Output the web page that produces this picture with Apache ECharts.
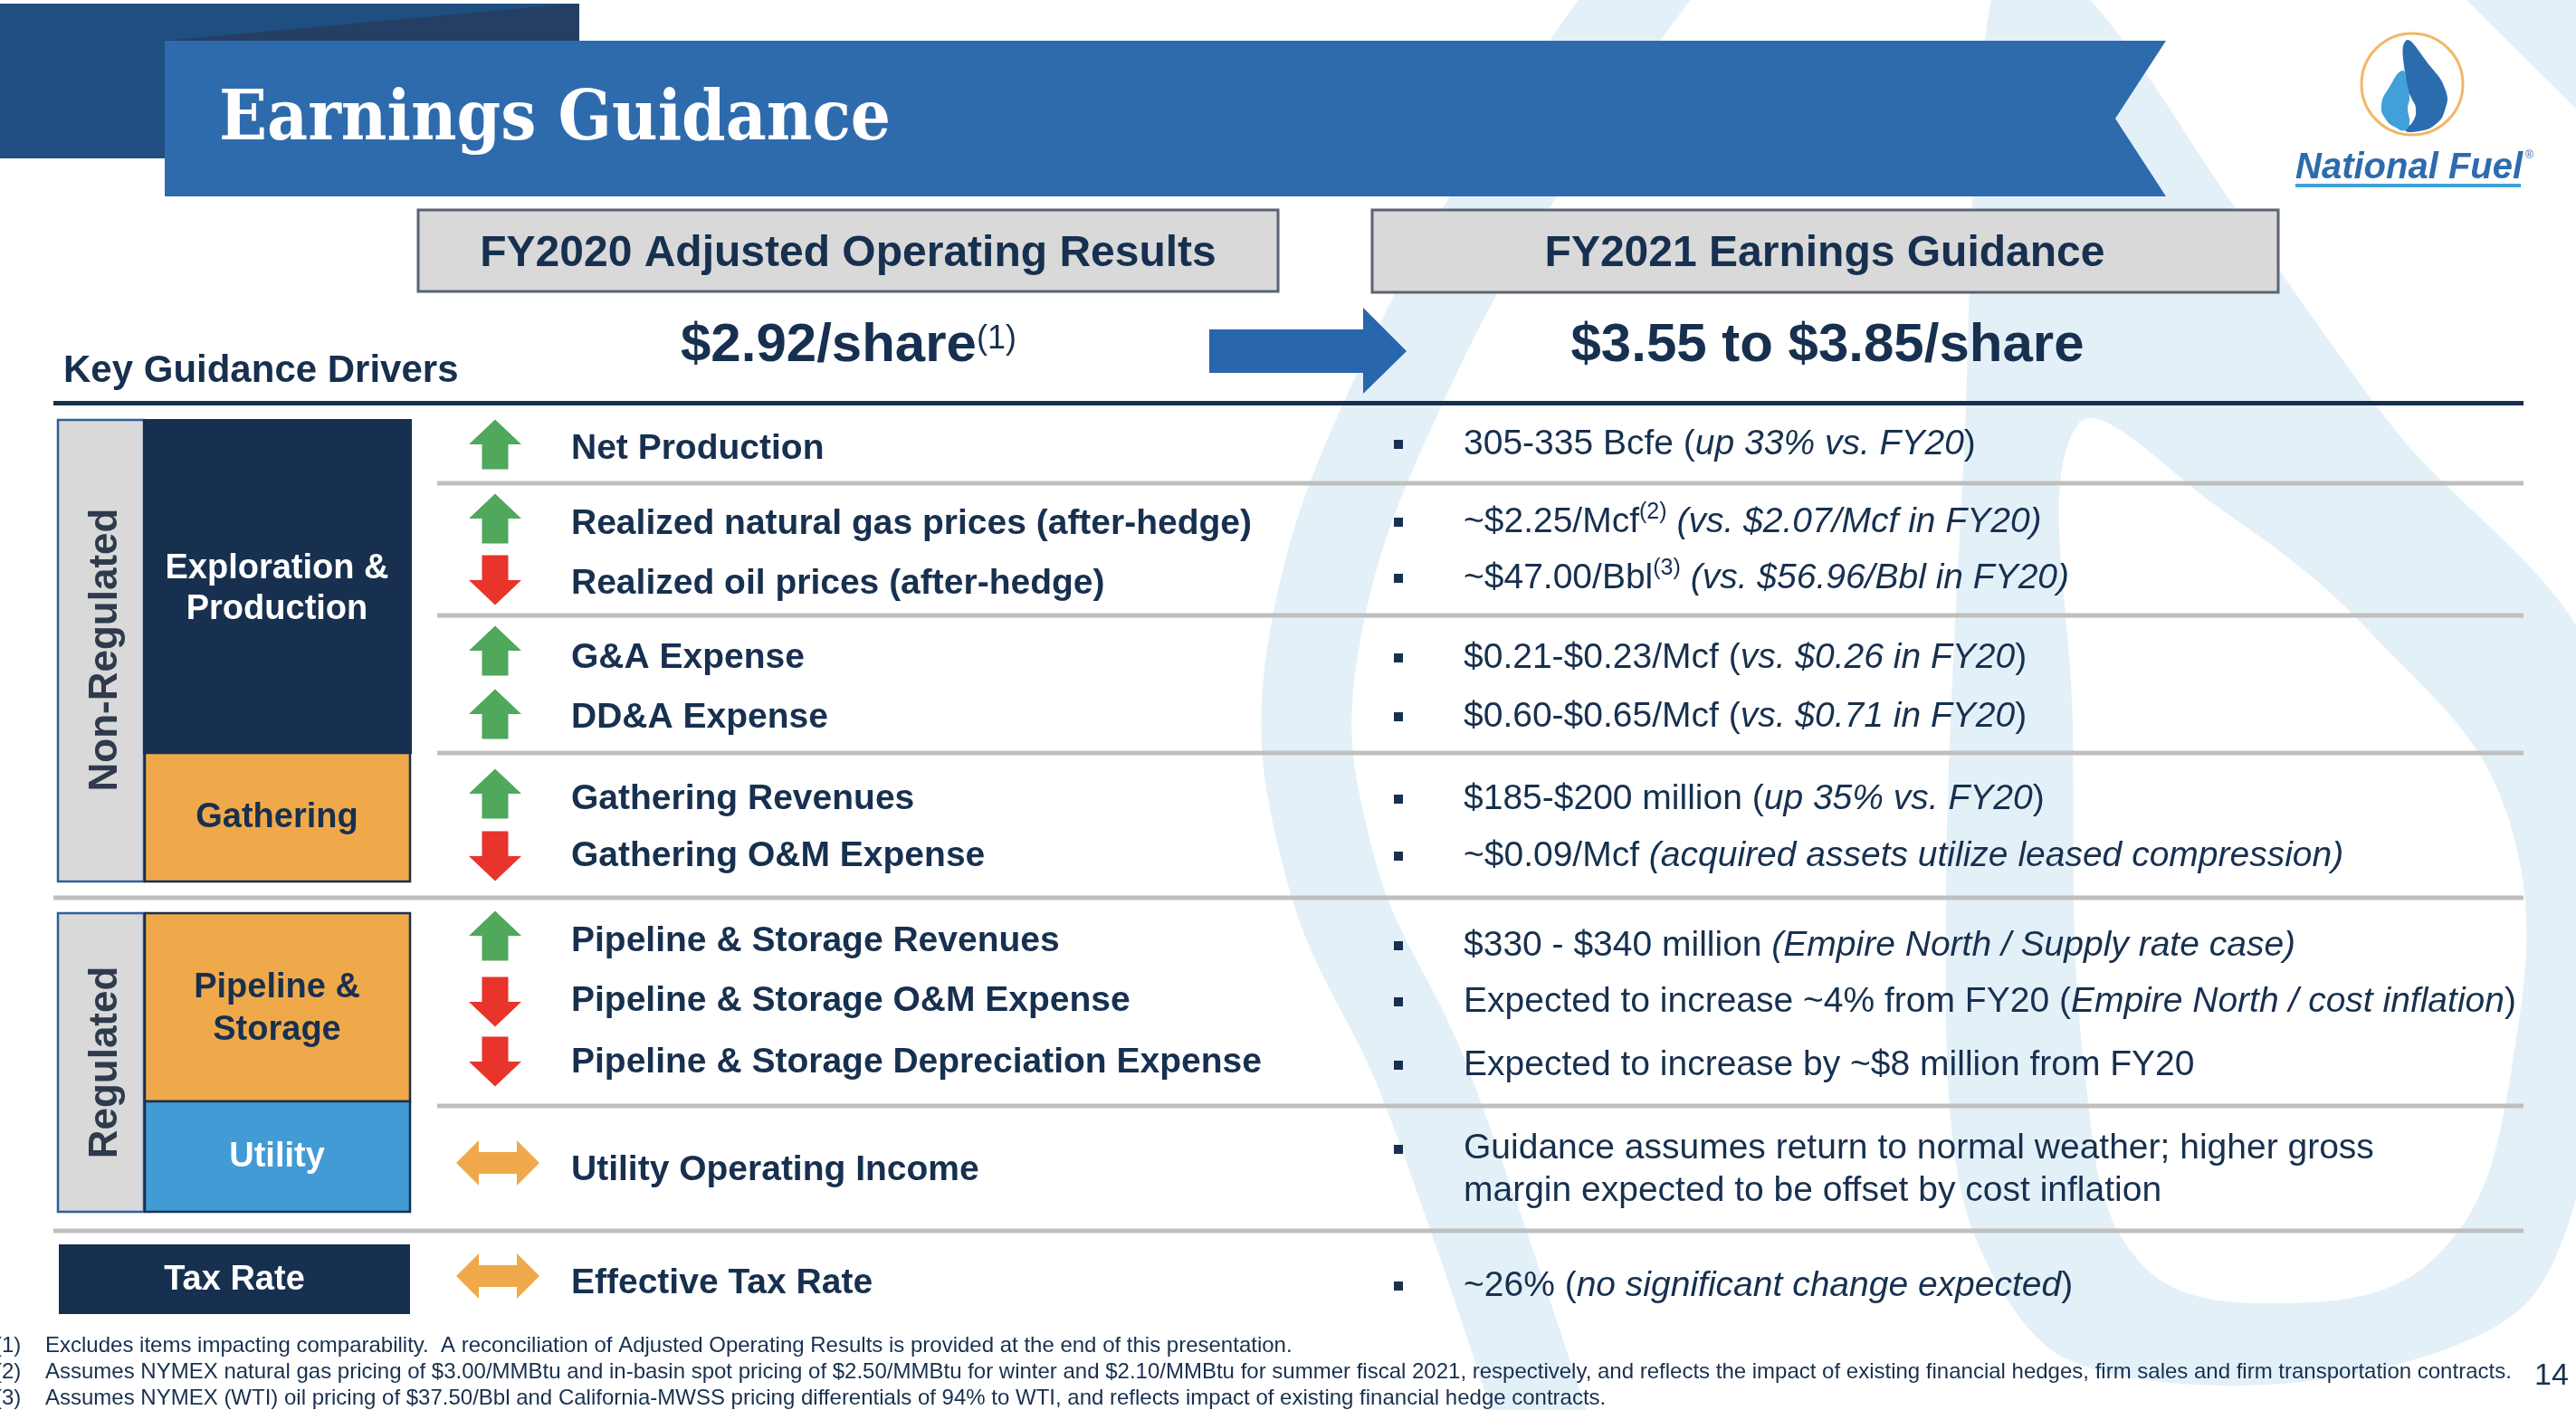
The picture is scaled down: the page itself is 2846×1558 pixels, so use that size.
<!DOCTYPE html>
<html>
<head>
<meta charset="utf-8">
<title>Earnings Guidance</title>
<script src="https://cdn.jsdelivr.net/npm/echarts@6/dist/echarts.min.js"></script>
<style>
  html, body { margin: 0; padding: 0; background: #fff; }
  #chart { width: 2846px; height: 1558px; }
</style>
</head>
<body>
<div id="chart"></div>
<script>
// slide content
const title = 'Earnings Guidance';
const headers = ['FY2020 Adjusted Operating Results', 'FY2021 Earnings Guidance'];
const eps2020 = '$2.92/share';
const eps2020Ref = '(1)';
const eps2021 = '$3.55 to $3.85/share';
const driversTitle = 'Key Guidance Drivers';
const groups = ['Non-Regulated', 'Regulated'];
const segments = ['Exploration &\nProduction', 'Gathering', 'Pipeline &\nStorage', 'Utility', 'Tax Rate'];

const drivers = [
  'Net Production',
  'Realized natural gas prices (after-hedge)',
  'Realized oil prices (after-hedge)',
  'G&A Expense',
  'DD&A Expense',
  'Gathering Revenues',
  'Gathering O&M Expense',
  'Pipeline & Storage Revenues',
  'Pipeline & Storage O&M Expense',
  'Pipeline & Storage Depreciation Expense',
  'Utility Operating Income',
  'Effective Tax Rate'
];
// up / down / flat
const direction = ['up', 'up', 'down', 'up', 'up', 'up', 'down', 'up', 'down', 'down', 'flat', 'flat'];

// guidance text split in plain lead, footnote ref, italic note, plain tail
const guideLead = [
  '305-335 Bcfe (',
  '~$2.25/Mcf',
  '~$47.00/Bbl',
  '$0.21-$0.23/Mcf (',
  '$0.60-$0.65/Mcf (',
  '$185-$200 million (',
  '~$0.09/Mcf ',
  '$330 - $340 million ',
  'Expected to increase ~4% from FY20 (',
  'Expected to increase by ~$8 million from FY20',
  'Guidance assumes return to normal weather; higher gross\nmargin expected to be offset by cost inflation',
  '~26% ('
];
const guideRef = ['', '(2)', '(3)', '', '', '', '', '', '', '', '', ''];
const guideNote = [
  'up 33% vs. FY20',
  ' (vs. $2.07/Mcf in FY20)',
  ' (vs. $56.96/Bbl in FY20)',
  'vs. $0.26 in FY20',
  'vs. $0.71 in FY20',
  'up 35% vs. FY20',
  '(acquired assets utilize leased compression)',
  '(Empire North / Supply rate case)',
  'Empire North / cost inflation',
  '',
  '',
  'no significant change expected'
];
const guideTail = [')', '', '', ')', ')', ')', '', '', ')', '', '', ')'];

const footRefs = ['(1)', '(2)', '(3)'];
const footnotes = [
  'Excludes items impacting comparability.  A reconciliation of Adjusted Operating Results is provided at the end of this presentation.',
  'Assumes NYMEX natural gas pricing of $3.00/MMBtu and in-basin spot pricing of $2.50/MMBtu for winter and $2.10/MMBtu for summer fiscal 2021, respectively, and reflects the impact of existing financial hedges, firm sales and firm transportation contracts.',
  'Assumes NYMEX (WTI) oil pricing of $37.50/Bbl and California-MWSS pricing differentials of 94% to WTI, and reflects impact of existing financial hedge contracts.'
];
const pageNo = '14';
const brand = 'National Fuel';

// layout (row centres in px)
const arrowY = [491, 573, 641, 719, 789, 877, 946, 1034, 1107, 1173, 1285, 1410];
const labelY = [496, 579, 645, 727, 793, 883, 946, 1040, 1106, 1174, 1293, 1418];
const guideY = [491, 577, 639, 727, 792, 883, 946, 1045, 1107, 1177, 1293, 1421];
const footY = [1487, 1516, 1545];
const shortRules = [534, 680, 832, 1222];
const longRules = [992, 1360];

const SANS = '"Liberation Sans", Arial, Helvetica, sans-serif';
const NAVY = '#17304f';
const WM = '#e4f0f8';

const chart = echarts.init(document.getElementById('chart'));
const els = [];

function rect(x, y, w, h, fill, stroke, lw) {
  els.push({ type: 'rect', shape: { x: x, y: y, width: w, height: h },
    style: { fill: fill, stroke: stroke || null, lineWidth: lw || 0 } });
}
function poly(points, fill, smooth) {
  els.push({ type: 'polygon', shape: { points: points, smooth: smooth || 0 }, style: { fill: fill } });
}
function text(x, y, str, st, extra) {
  els.push(Object.assign({ type: 'text', x: x, y: y,
    style: Object.assign({ text: str, fontFamily: SANS, fill: NAVY, align: 'left', verticalAlign: 'middle' }, st) }, extra || {}));
}

// watermark (big faint logo) behind everything
els.push({ type: 'polyline', shape: { points: [[1850, -60], [1736, 100], [1560, 400], [1450, 720], [1470, 960], [1576, 1200], [1720, 1620]], smooth: 0.4 },
  style: { fill: 'none', stroke: WM, lineWidth: 100 } });
poly([[2204, -20], [2290, -20], [2470, 230], [2650, 480], [2860, 720], [2880, 1100], [2800, 1430], [2560, 1525], [2280, 1500], [2170, 1330], [2150, 1000], [2170, 500]], WM, 0.3);
poly([[2295, 470], [2450, 560], [2620, 700], [2770, 900], [2775, 1180], [2690, 1390], [2500, 1440], [2360, 1390], [2305, 1200], [2290, 800]], '#ffffff', 0.4);
poly([[2720, -5], [2846, -5], [2846, 120]], WM, 0);

// title band
rect(0, 4, 640, 171, '#1f4e80');
poly([[182, 45], [622, 5], [640, 5], [640, 45]], '#243f63');
poly([[182, 45], [2393, 45], [2337, 131], [2393, 217], [182, 217]], '#2e6bad');
text(242, 134, title, { fontFamily: '"DejaVu Serif", serif', fontSize: 77, fontWeight: 'bold', fill: '#ffffff' }, { scaleX: 0.904 });

// logo
els.push({ type: 'circle', shape: { cx: 2665, cy: 93, r: 56 }, style: { fill: '#ffffff', stroke: '#f2b766', lineWidth: 3 } });
poly([[2658, 45], [2684, 72], [2702, 100], [2701, 122], [2690, 138], [2672, 145], [2657, 144], [2666, 134], [2669, 120], [2664, 108], [2659, 96]], '#2c6db0', 0.5);
poly([[2654, 78], [2640, 96], [2631, 116], [2636, 132], [2647, 141], [2657, 144], [2662, 136], [2660, 120], [2662, 108], [2659, 92]], '#41a0d8', 0.5);
text(2536, 186, brand, { fontSize: 40, fontWeight: 'bold', fontStyle: 'italic', fill: '#2e6bad' });
text(2790, 172, '\u00ae', { fontSize: 12, fill: '#2e6bad' });
rect(2536, 203, 249, 4, '#41a0d8');

// column headers
rect(462, 232, 950, 90, '#d9d9d9', '#5b6472', 3);
rect(1516, 232, 1001, 91, '#d9d9d9', '#5b6472', 3);
text(937, 281, headers[0], { fontSize: 48, fontWeight: 'bold', align: 'center' });
text(2016, 281, headers[1], { fontSize: 48, fontWeight: 'bold', align: 'center' });

// eps line
text(752, 382, '{n|' + eps2020 + '}{s|' + eps2020Ref + '}', {
  rich: {
    n: { fontFamily: SANS, fontSize: 60, fontWeight: 'bold', fill: NAVY, lineHeight: 50 },
    s: { fontFamily: SANS, fontSize: 36, fill: NAVY, verticalAlign: 'top', lineHeight: 36 }
  }
});
poly([[1336, 364], [1506, 364], [1506, 340], [1554, 388], [1506, 435], [1506, 412], [1336, 412]], '#2866ad');
text(2019, 382, eps2021, { fontSize: 60, fontWeight: 'bold', align: 'center' });

text(70, 410, driversTitle, { fontSize: 42, fontWeight: 'bold' });
rect(59, 443, 2729, 5, NAVY);

// segment boxes
rect(64, 464, 95, 510, '#d9d9d9', '#2e5f9a', 2.5);
rect(159, 464, 295, 368, NAVY, NAVY, 2);
rect(160, 832, 293, 142, '#f0a94a', NAVY, 2.5);
rect(64, 1009, 95, 330, '#d9d9d9', '#2e5f9a', 2.5);
rect(160, 1009, 293, 208, '#f0a94a', NAVY, 2.5);
rect(160, 1217, 293, 122, '#429bd5', NAVY, 2.5);
rect(65, 1375, 388, 77, NAVY);

text(117, 718, groups[0], { fontSize: 44, fontWeight: 'bold', fill: '#2f3b4c', align: 'center' }, { rotation: Math.PI / 2 });
text(117, 1174, groups[1], { fontSize: 44, fontWeight: 'bold', fill: '#2f3b4c', align: 'center' }, { rotation: Math.PI / 2 });
text(306, 651, segments[0], { fontSize: 38, fontWeight: 'bold', fill: '#ffffff', align: 'center', lineHeight: 45 });
text(306, 904, segments[1], { fontSize: 38, fontWeight: 'bold', align: 'center' });
text(306, 1115, segments[2], { fontSize: 38, fontWeight: 'bold', align: 'center', lineHeight: 47 });
text(306, 1279, segments[3], { fontSize: 38, fontWeight: 'bold', fill: '#ffffff', align: 'center' });
text(259, 1415, segments[4], { fontSize: 38, fontWeight: 'bold', fill: '#ffffff', align: 'center' });

// rules
shortRules.forEach(function (y) { rect(483, y - 2.5, 2305, 5, '#bfbfbf'); });
longRules.forEach(function (y) { rect(59, y - 2.5, 2729, 5, '#bfbfbf'); });

// arrows
function arrow(dir, cy) {
  const cx = 547;
  if (dir === 'up') {
    poly([[cx, cy - 27.5], [cx + 29, cy], [cx + 14.5, cy], [cx + 14.5, cy + 27.5], [cx - 14.5, cy + 27.5], [cx - 14.5, cy], [cx - 29, cy]], '#4fa85b');
  } else if (dir === 'down') {
    poly([[cx, cy + 27.5], [cx + 29, cy], [cx + 14.5, cy], [cx + 14.5, cy - 27.5], [cx - 14.5, cy - 27.5], [cx - 14.5, cy], [cx - 29, cy]], '#e8342a');
  } else {
    const x = 550;
    poly([[x - 46, cy], [x - 21, cy - 25], [x - 21, cy - 12], [x + 21, cy - 12], [x + 21, cy - 25], [x + 46, cy],
      [x + 21, cy + 25], [x + 21, cy + 12], [x - 21, cy + 12], [x - 21, cy + 25]], '#f0a94a');
  }
}

const guideRich = {
  n: { fontFamily: SANS, fontSize: 39, fill: NAVY, lineHeight: 47 },
  i: { fontFamily: SANS, fontSize: 39, fontStyle: 'italic', fill: NAVY, lineHeight: 47 },
  s: { fontFamily: SANS, fontSize: 25, fill: NAVY, verticalAlign: 'top', lineHeight: 25 }
};

drivers.forEach(function (name, k) {
  arrow(direction[k], arrowY[k]);
  text(631, labelY[k], name, { fontSize: 39, fontWeight: 'bold' });

  let s = '{n|' + guideLead[k] + '}';
  if (guideRef[k]) s += '{s|' + guideRef[k] + '}';
  if (guideNote[k]) s += '{i|' + guideNote[k] + '}';
  if (guideTail[k]) s += '{n|' + guideTail[k] + '}';
  const twoLine = guideLead[k].indexOf('\n') >= 0;
  rect(1540, (twoLine ? guideY[k] - 23 : guideY[k]) - 5, 10, 10, NAVY);
  text(1617, guideY[k], s, { rich: guideRich });
});

// footnotes
footnotes.forEach(function (f, k) {
  text(-6, footY[k], footRefs[k], { fontSize: 24 });
  text(50, footY[k], f, { fontSize: 24 });
});
text(2800, 1521, pageNo, { fontSize: 34 });

chart.setOption({
  backgroundColor: '#ffffff',
  animation: false,
  graphic: { elements: els }
});
</script>
</body>
</html>
